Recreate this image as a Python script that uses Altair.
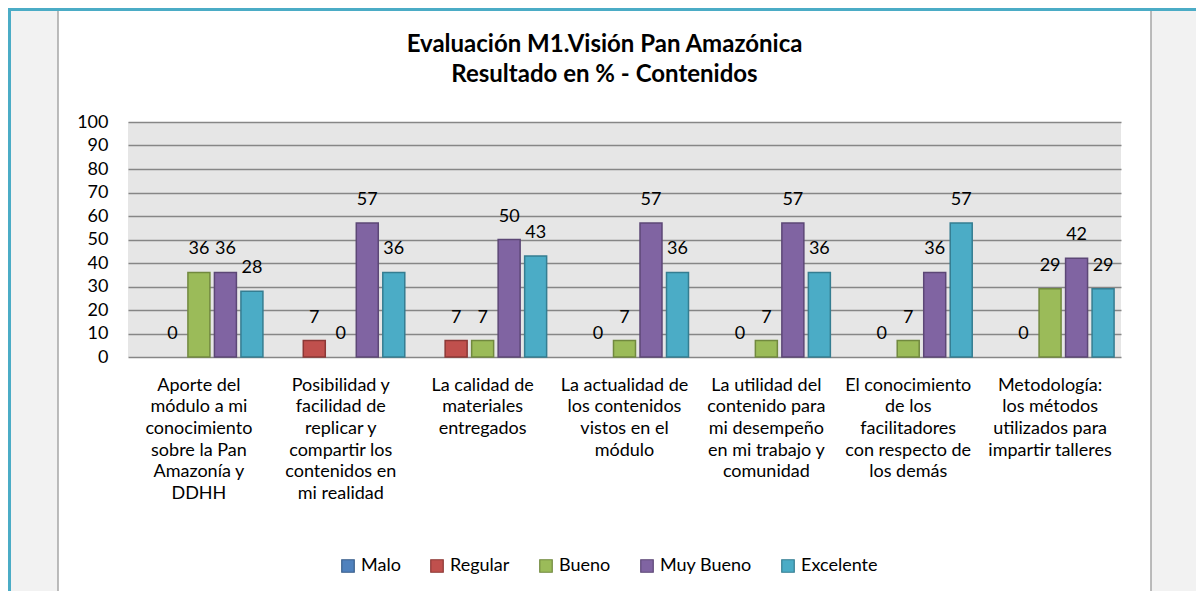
import altair as alt
import pandas as pd

categories = [
    "Aporte del\nmódulo a mi\nconocimiento\nsobre la Pan\nAmazonía y\nDDHH",
    "Posibilidad y\nfacilidad de\nreplicar y\ncompartir los\ncontenidos en\nmi realidad",
    "La calidad de\nmateriales\nentregados",
    "La actualidad de\nlos contenidos\nvistos en el\nmódulo",
    "La utilidad del\ncontenido para\nmi desempeño\nen mi trabajo y\ncomunidad",
    "El conocimiento\nde los\nfacilitadores\ncon respecto de\nlos demás",
    "Metodología:\nlos métodos\nutilizados para\nimpartir talleres",
]
series = ["Malo", "Regular", "Bueno", "Muy Bueno", "Excelente"]
malo = [None, None, None, None, None, None, None]
regular = [0, 7, 7, 0, 0, 0, 0]
bueno = [36, 0, 7, 7, 7, 7, 29]
muy_bueno = [36, 57, 50, 57, 57, 36, 42]
excelente = [28, 36, 43, 36, 36, 57, 29]
y_ticks = [0, 10, 20, 30, 40, 50, 60, 70, 80, 90, 100]

fills = ["#4f81bd", "#c0504d", "#9bbb59", "#8064a2", "#4bacc6"]
strokes = ["#385d8a", "#8c3836", "#71893f", "#5c4776", "#357d91"]

rows = []
for s, vals in zip(series, [malo, regular, bueno, muy_bueno, excelente]):
    for c, v in zip(categories, vals):
        rows.append({"cat": c, "serie": s, "value": v})
df = pd.DataFrame(rows)
deco = pd.DataFrame({"k": [0]})

FONT = "Lato"
W, H = 993, 235

x_enc = alt.X(
    "cat:N", sort=categories,
    scale=alt.Scale(paddingInner=0.0977, paddingOuter=0.0488),
    axis=alt.Axis(title=None, domain=False, ticks=False, labelAngle=0,
                  labelPadding=19, labelFontSize=18, labelColor="black",
                  labelFont=FONT, labelLineHeight=21.7, labelBaseline="top",
                  labelLimit=250, labelExpr="split(datum.label, '\\n')"),
)
xo_enc = alt.XOffset("serie:N", sort=series,
                     scale=alt.Scale(domain=series, paddingInner=0.17, paddingOuter=0))
y_enc = alt.Y(
    "value:Q",
    scale=alt.Scale(domain=[0, 100], nice=False),
    axis=alt.Axis(title=None, values=y_ticks, domain=False, ticks=False,
                  labelPadding=20, labelFontSize=18, labelColor="black", labelFont=FONT,
                  grid=True, gridColor="#868686", gridWidth=1.6),
)

legend = alt.Legend(title=None, orient="none", legendX=211, legendY=435,
                    direction="horizontal", symbolType="square", symbolSize=156,
                    symbolStrokeWidth=1.2, labelFontSize=18, labelFont=FONT,
                    labelColor="black", labelOffset=4, columnPadding=27, padding=0)

bars = alt.Chart(df).transform_filter("datum.value > 0").mark_bar(strokeWidth=1.5).encode(
    x=x_enc, xOffset=xo_enc, y=y_enc,
    color=alt.Color("serie:N", sort=series, scale=alt.Scale(domain=series, range=fills), legend=legend),
    stroke=alt.Stroke("serie:N", sort=series, scale=alt.Scale(domain=series, range=strokes), legend=legend),
)

labels = alt.Chart(df).transform_filter("isValid(datum.value)").mark_text(
    fontSize=18, font=FONT, color="black", baseline="middle", dy=-23
).encode(x=x_enc, xOffset=xo_enc, y=y_enc, text=alt.Text("value:Q", format="d"))

left_strip = alt.Chart(deco).mark_rect(color="#f2f2f2").encode(
    x=alt.value(-120), x2=alt.value(-70), y=alt.value(-114), y2=alt.value(469))
right_strip = alt.Chart(deco).mark_rect(color="#f2f2f2").encode(
    x=alt.value(1023), x2=alt.value(1068), y=alt.value(-114), y2=alt.value(469))
left_border = alt.Chart(deco).mark_rule(color="#a6a6a6", strokeWidth=1.5).encode(
    x=alt.value(-70), y=alt.value(-112), y2=alt.value(469))
right_border = alt.Chart(deco).mark_rule(color="#a6a6a6", strokeWidth=1.5).encode(
    x=alt.value(1023), y=alt.value(-112), y2=alt.value(469))
top_teal = alt.Chart(deco).mark_rule(color="#4bacc6", strokeWidth=3).encode(
    x=alt.value(-120), x2=alt.value(1068), y=alt.value(-112.5))
left_teal = alt.Chart(deco).mark_rule(color="#4bacc6", strokeWidth=3).encode(
    x=alt.value(-118.5), y=alt.value(-114), y2=alt.value(469))

chart = alt.layer(
    left_strip, right_strip, left_border, right_border, top_teal, left_teal, bars, labels
).properties(
    width=W, height=H,
    autosize="none",
    padding={"left": 120, "top": 114, "right": 75, "bottom": 234},
    background="white",
    title=alt.TitleParams(
        text=["Evaluación M1.Visión Pan Amazónica", "Resultado en % - Contenidos"],
        fontSize=24, fontWeight="bold", font=FONT, color="black",
        anchor="middle", dx=-20, offset=-104, lineHeight=30, baseline="bottom",
    ),
).configure_view(stroke=None, fill="#e6e6e6")

chart.save("out.html", embed_options={"renderer": "svg", "actions": False})
